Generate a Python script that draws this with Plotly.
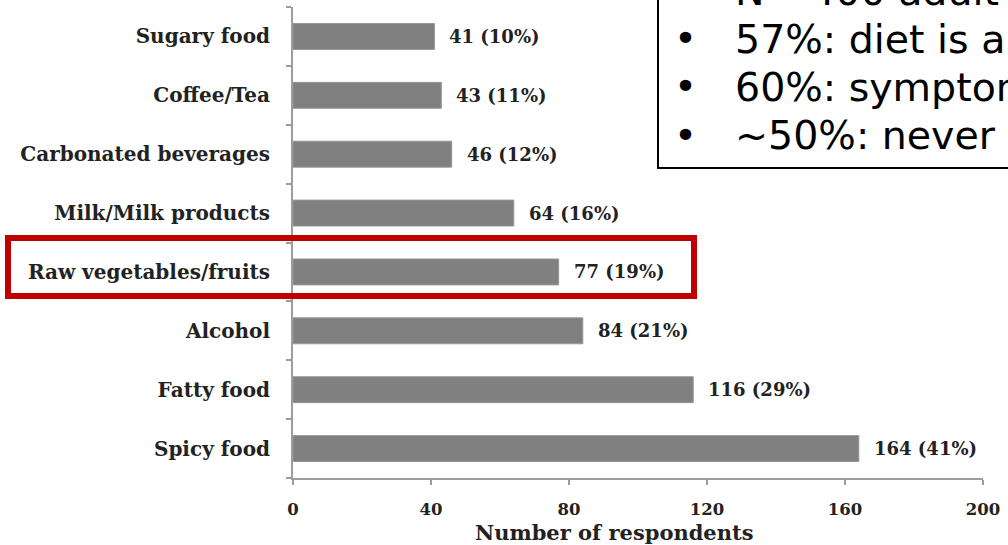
import plotly.graph_objects as go

# Food items reported as symptom triggers (top to bottom as displayed)
categories = [
    "Sugary food",
    "Coffee/Tea",
    "Carbonated beverages",
    "Milk/Milk products",
    "Raw vegetables/fruits",
    "Alcohol",
    "Fatty food",
    "Spicy food",
]
respondents = [41, 43, 46, 64, 77, 84, 116, 164]
percent = [10, 11, 12, 16, 19, 21, 29, 41]

x_ticks = [0, 40, 80, 120, 160, 200]

summary_lines = [
    "N= 400 adult IBS patients",
    "57%: diet is a trigger for symptoms",
    "60%: symptoms within hours of a meal",
    "~50%: never seen a dietitian",
]

W, H = 1008, 545
L, R, T, B = 293, 25, 7, 67
plot_w = W - L - R
plot_h = H - T - B


def px_x(px):
    return (px - L) / plot_w


def px_y(py):
    return (H - B - py) / plot_h


serif = "DejaVu Serif"
axis_grey = "#9c9c9c"
label_col = "#222222"

fig = go.Figure(
    go.Bar(
        x=respondents,
        y=categories,
        orientation="h",
        marker=dict(color="#808080", line=dict(color="#969696", width=1)),
        hoverinfo="skip",
    )
)

# value labels to the right of each bar
for cat, n, p in zip(categories, respondents, percent):
    fig.add_annotation(
        x=n, y=cat, xref="x", yref="y",
        text=f"{n} ({p}%)", showarrow=False,
        xanchor="left", yanchor="middle", xshift=13,
        font=dict(family=serif, size=18, color=label_col, weight="bold"),
    )

# axis title
fig.add_annotation(
    x=px_x(614), y=px_y(532), xref="paper", yref="paper",
    text="Number of respondents", showarrow=False,
    xanchor="center", yanchor="middle",
    font=dict(family=serif, size=21, color=label_col, weight="bold"),
)

# highlight around the raw vegetables/fruits row
fig.add_shape(
    type="rect", xref="paper", yref="paper",
    x0=px_x(8), x1=px_x(694), y0=px_y(238), y1=px_y(296),
    line=dict(color="#c00000", width=6), fillcolor="rgba(0,0,0,0)",
    layer="above",
)

# summary text box
fig.add_shape(
    type="rect", xref="paper", yref="paper",
    x0=px_x(658), x1=px_x(1030), y0=px_y(168), y1=px_y(-40),
    line=dict(color="#000000", width=2), fillcolor="#ffffff",
    layer="above",
)
line_centres = [-9, 39, 87, 135]
for text, cy in zip(summary_lines, line_centres):
    fig.add_annotation(
        x=px_x(685), y=px_y(cy), xref="paper", yref="paper",
        text="•", showarrow=False, xanchor="center", yanchor="middle",
        font=dict(family="DejaVu Sans", size=39, color="#000000"),
    )
    fig.add_annotation(
        x=px_x(733), y=px_y(cy), xref="paper", yref="paper",
        text=text, showarrow=False, xanchor="left", yanchor="middle",
        font=dict(family="DejaVu Sans", size=39.5, color="#000000"),
    )

fig.update_layout(
    width=W, height=H,
    margin=dict(l=L, r=R, t=T, b=B, pad=0),
    paper_bgcolor="#ffffff", plot_bgcolor="#ffffff",
    bargap=0.56,
    showlegend=False,
    xaxis=dict(
        range=[0, 200], tickvals=x_ticks, ticktext=[str(v) for v in x_ticks],
        showgrid=False, zeroline=False,
        showline=True, linecolor=axis_grey, linewidth=2,
        ticks="outside", ticklen=5, tickwidth=2, tickcolor=axis_grey,
        tickfont=dict(family=serif, size=16.5, color=label_col, weight="bold"),
        ticklabelstandoff=10,
        fixedrange=True,
    ),
    yaxis=dict(
        categoryorder="array", categoryarray=categories[::-1],
        range=[-0.5, len(categories) - 0.5],
        showgrid=False, zeroline=False,
        showline=True, linecolor=axis_grey, linewidth=2,
        ticks="outside", ticklen=5, tickwidth=2, tickcolor=axis_grey,
        tickson="boundaries",
        tickfont=dict(family=serif, size=20, color=label_col, weight="bold"),
        ticklabelstandoff=17,
        fixedrange=True,
    ),
)

fig.write_html("out.html")
